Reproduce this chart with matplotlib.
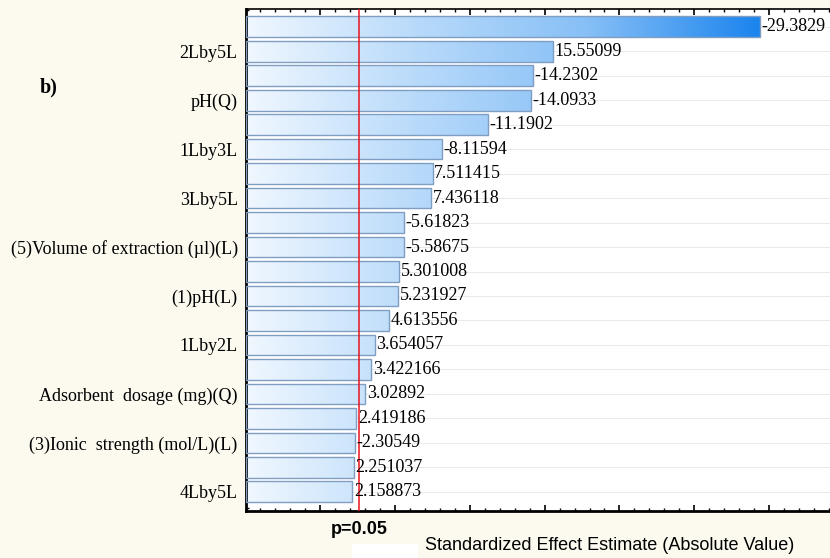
import numpy as np
import matplotlib
matplotlib.use("Agg")
import matplotlib.pyplot as plt
from matplotlib.colors import LinearSegmentedColormap
from matplotlib.patches import Rectangle
from matplotlib.ticker import MultipleLocator, NullFormatter

# ---------------------------------------------------------------------------
# Data (Pareto chart of standardized effects)
# ---------------------------------------------------------------------------
effects = [-29.3829, 15.55099, -14.2302, -14.0933, -11.1902, -8.11594,
           7.511415, 7.436118, -5.61823, -5.58675, 5.301008, 5.231927,
           4.613556, 3.654057, 3.422166, 3.02892, 2.419186, -2.30549,
           2.251037, 2.158873]
factor_labels = ["", "2Lby5L", "", "pH(Q)", "", "1Lby3L", "", "3Lby5L", "",
                 "(5)Volume of extraction (\u00b5l)(L)", "", "(1)pH(L)", "",
                 "1Lby2L", "", "Adsorbent  dosage (mg)(Q)", "",
                 "(3)Ionic  strength (mol/L)(L)", "", "4Lby5L"]
P_LINE = 2.57          # t critical, p = 0.05
X_MIN, X_MAX = -4.95, 34.2

BG_FIG   = "#fcf9ef"
EDGE     = "#7f9ec2"
RED      = "#e8141c"
GRID_COL = "#e9e9e9"

grad = LinearSegmentedColormap.from_list(
    "bar_grad", ["#f0f7ff", "#b8dafa", "#86bff6", "#1b84ee"])

fig = plt.figure(figsize=(8.3, 5.58), dpi=100)
fig.patch.set_facecolor(BG_FIG)
ax = fig.add_axes([246 / 830, 1 - 511 / 558, 586 / 830, 502 / 558])
ax.set_facecolor("white")

ypos = np.arange(len(effects))
mags = np.abs(effects)

for y in ypos:
    ax.axhline(y, color=GRID_COL, linewidth=0.7, zorder=0)

bars = ax.barh(ypos, mags - X_MIN, left=X_MIN, height=0.85,
               facecolor="none", edgecolor=EDGE, linewidth=1.0, zorder=3)

gradient = np.linspace(0, 1, 256).reshape(1, -1)
for bar in bars:
    im = ax.imshow(gradient, cmap=grad, aspect="auto",
                   extent=[X_MIN, mags.max(), ypos[-1] + 1, -1],
                   zorder=2, interpolation="bicubic")
    im.set_clip_path(bar)

ax.set_xlim(X_MIN, X_MAX)
ax.set_ylim(len(effects) - 1 + 0.78, -0.72)

for y, v, m in zip(ypos, effects, mags):
    ax.text(m + 0.1, y, str(v), ha="left", va="center",
            family="Liberation Serif", fontsize=13, color="black", zorder=5)

ax.axvline(P_LINE, color=RED, linewidth=1.1, zorder=4)

# axes styling
ax.set_yticks(ypos)
ax.set_yticklabels(factor_labels, family="Liberation Serif", fontsize=13)
ax.yaxis.set_minor_locator(MultipleLocator(1 / 3))
ax.xaxis.set_major_locator(MultipleLocator(5))
ax.xaxis.set_minor_locator(MultipleLocator(1))
ax.xaxis.set_major_formatter(NullFormatter())
ax.tick_params(axis="x", which="both", direction="in", top=True, bottom=True,
               color="black")
ax.tick_params(axis="x", which="major", length=4, width=1.2)
ax.tick_params(axis="x", which="minor", length=2.5, width=1.0)
ax.tick_params(axis="y", which="major", direction="in", length=4, width=1.2, pad=6)
ax.tick_params(axis="y", which="minor", direction="in", length=2.5, width=1.0)
ax.spines["left"].set_linewidth(2.0)
ax.spines["bottom"].set_linewidth(2.0)
ax.spines["top"].set_linewidth(1.2)
ax.spines["right"].set_visible(False)

fig.text(40 / 830, 1 - 87 / 558, "b)", family="Liberation Serif",
         fontweight="bold", fontsize=14.5, ha="left", va="center")
fig.text(359 / 830, 1 - 530 / 558, "p=0.05", family="Liberation Sans",
         fontweight="bold", fontsize=13, ha="center", va="center")
fig.text(425 / 830, 1 - 546 / 558,
         "Standardized Effect Estimate (Absolute Value)",
         family="Liberation Sans", fontsize=13, ha="left", va="center")
fig.patches.append(Rectangle((352 / 830, 0), 66 / 830, 14 / 558,
                             transform=fig.transFigure, facecolor="white",
                             edgecolor="none"))

fig.savefig("out.png", dpi=100, facecolor=BG_FIG)
